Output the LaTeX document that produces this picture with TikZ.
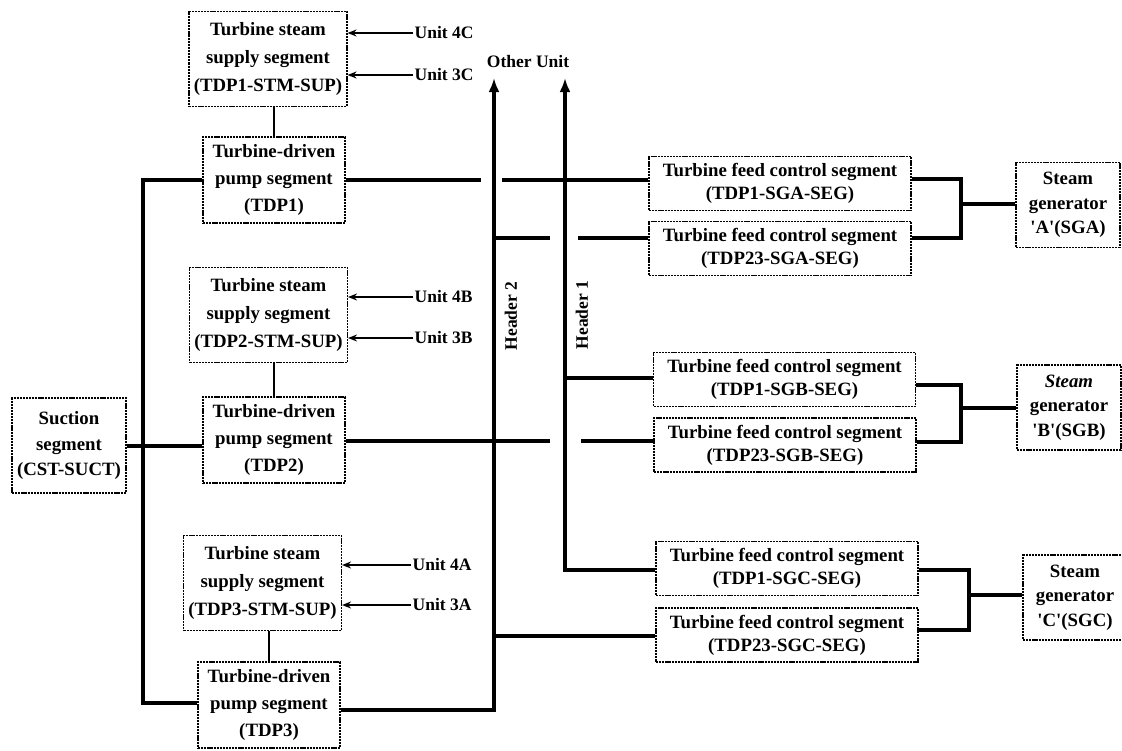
\documentclass[tikz,border=0pt]{standalone}
\usepackage{fontspec}
\setmainfont{Liberation Serif}
\usetikzlibrary{arrows.meta}

\begin{document}
\begin{tikzpicture}[x=1pt,y=-1pt,
  segbox/.style={draw, line width=1.1pt, dash pattern=on 2.2pt off 0.9pt,
    inner sep=0pt, align=center, font=\bfseries\fontsize{18.8}{#1}\selectfont},
  stmbox/.style={segbox=28, minimum width=158pt, minimum height=95pt},
  tdpbox/.style={segbox=27, minimum width=142pt, minimum height=86pt},
  sucbox/.style={segbox=25.5, minimum width=114pt, minimum height=95pt},
  tfcbox/.style={segbox=23, minimum width=262pt, minimum height=54pt},
  sgbox/.style={segbox=24.5, minimum width=104pt, minimum height=85pt},
  lbl/.style={font=\bfseries\fontsize{17.5}{20}\selectfont, inner sep=1.5pt},
  heavy/.style={line width=4pt},
  link/.style={line width=2.5pt},
  feed/.style={line width=1.5pt, -{Stealth[length=9pt,width=7pt]}},
  header/.style={heavy, -{Latex[length=14pt,width=11pt]}}
]
\useasboundingbox (0,0) rectangle (1122,750);

% pump trains: steam supply above each turbine-driven pump
\node[stmbox] (stm1) at (268,59)    {Turbine steam\\supply segment\\(TDP1-STM-SUP)};
\node[tdpbox] (tdp1) at (274,180)   {Turbine-driven\\pump segment\\(TDP1)};
\node[stmbox] (stm2) at (268.5,315) {Turbine steam\\supply segment\\(TDP2-STM-SUP)};
\node[tdpbox] (tdp2) at (274,440)   {Turbine-driven\\pump segment\\(TDP2)};
\node[stmbox] (stm3) at (262.5,583) {Turbine steam\\supply segment\\(TDP3-STM-SUP)};
\node[tdpbox] (tdp3) at (269,705)   {Turbine-driven\\pump segment\\(TDP3)};
\node[sucbox] (suct) at (69,445.5)  {Suction\\segment\\(CST-SUCT)};

% feed control segments
\node[tfcbox] (a1)  at (780,183.5) {Turbine feed control segment\\(TDP1-SGA-SEG)};
\node[tfcbox] (a23) at (780,248.5) {Turbine feed control segment\\(TDP23-SGA-SEG)};
\node[tfcbox] (b1)  at (784.5,379.5) {Turbine feed control segment\\(TDP1-SGB-SEG)};
\node[tfcbox] (b23) at (785,445)   {Turbine feed control segment\\(TDP23-SGB-SEG)};
\node[tfcbox] (c1)  at (787,568.5) {Turbine feed control segment\\(TDP1-SGC-SEG)};
\node[tfcbox] (c23) at (787,635)   {Turbine feed control segment\\(TDP23-SGC-SEG)};

% steam generators
\node[sgbox] (sga) at (1068,205)   {Steam\\generator\\\textquotesingle A\textquotesingle(SGA)};
\node[sgbox] (sgb) at (1069,407.5) {\textit{Steam}\\generator\\\textquotesingle B\textquotesingle(SGB)};
\node[sgbox] (sgc) at (1075,597.5) {Steam\\generator\\\textquotesingle C\textquotesingle(SGC)};

% labels
\node[lbl, anchor=west] (u4c) at (413,33)  {Unit 4C};
\node[lbl, anchor=west] (u3c) at (413,75)  {Unit 3C};
\node[lbl, anchor=west] (u4b) at (413,297) {Unit 4B};
\node[lbl, anchor=west] (u3b) at (413,338) {Unit 3B};
\node[lbl, anchor=west] (u4a) at (411,565) {Unit 4A};
\node[lbl, anchor=west] (u3a) at (411,605) {Unit 3A};
\node[lbl] (other) at (528,62) {Other Unit};
\node[lbl, rotate=90] (hd2) at (511,316) {Header 2};
\node[lbl, rotate=90] (hd1) at (582,315) {Header 1};

% steam supply from other units
\foreach \u/\s in {u4c/stm1, u3c/stm1, u4b/stm2, u3b/stm2, u4a/stm3, u3a/stm3}
  \draw[feed] (\u.west) -- (\u.west -| \s.east);

% turbine to pump links
\draw[link] (tdp1.north) -- (tdp1.north |- stm1.south);
\draw[link] (tdp2.north) -- (tdp2.north |- stm2.south);
\draw[link] (tdp3.north) -- (tdp3.north |- stm3.south);

% junction and gap points
\coordinate (h2top) at (494,78);
\coordinate (h2bot) at (494,710);
\coordinate (h1top) at (565,78);
\coordinate (h1bot) at (565,570);
\coordinate (busB)  at (143,703);
\coordinate (g1a) at (481,180);
\coordinate (g1b) at (502,180);
\coordinate (g2a) at (550,441);
\coordinate (g2b) at (581,441);
\coordinate (a23l) at (494,238);
\coordinate (g3a) at (550,238);
\coordinate (g3b) at (578,238);
\coordinate (b1l) at (565,378);
\coordinate (c23l) at (494,636);
\coordinate (jAt) at (961,179);
\coordinate (jAb) at (961,238);
\coordinate (jA)  at (961,204);
\coordinate (jBt) at (961,385);
\coordinate (jBb) at (961,442);
\coordinate (jB)  at (961,408);
\coordinate (jCt) at (969,570);
\coordinate (jCb) at (969,630);
\coordinate (jC)  at (969,595);

% suction header
\draw[heavy] (tdp1.west) -| (busB) -- (busB -| tdp3.west);
\draw[heavy] (suct.east) -- (suct.east -| tdp2.west);

% discharge headers
\draw[header] (tdp3.east |- h2bot) -- (h2bot) -- (h2top);
\draw[header] (h1bot -| c1.west) -- (h1bot) -- (h1top);

% pump discharge lines
\draw[heavy] (tdp1.east) -- (g1a);
\draw[heavy] (g1b) -- (g1b -| a1.west);
\draw[heavy] (tdp2.east |- g2a) -- (g2a);
\draw[heavy] (g2b) -- (g2b -| b23.west);
\draw[heavy] (a23l) -- (g3a);
\draw[heavy] (g3b) -- (g3b -| a23.west);
\draw[heavy] (b1l) -- (b1l -| b1.west);
\draw[heavy] (c23l) -- (c23l -| c23.west);

% feed control to steam generators
\draw[heavy] (a1.east |- jAt) -- (jAt) -- (jAb) -- (a23.east |- jAb);
\draw[heavy] (jA) -- (jA -| sga.west);
\draw[heavy] (b1.east |- jBt) -- (jBt) -- (jBb) -- (b23.east |- jBb);
\draw[heavy] (jB) -- (jB -| sgb.west);
\draw[heavy] (c1.east |- jCt) -- (jCt) -- (jCb) -- (c23.east |- jCb);
\draw[heavy] (jC) -- (jC -| sgc.west);
\end{tikzpicture}
\end{document}
